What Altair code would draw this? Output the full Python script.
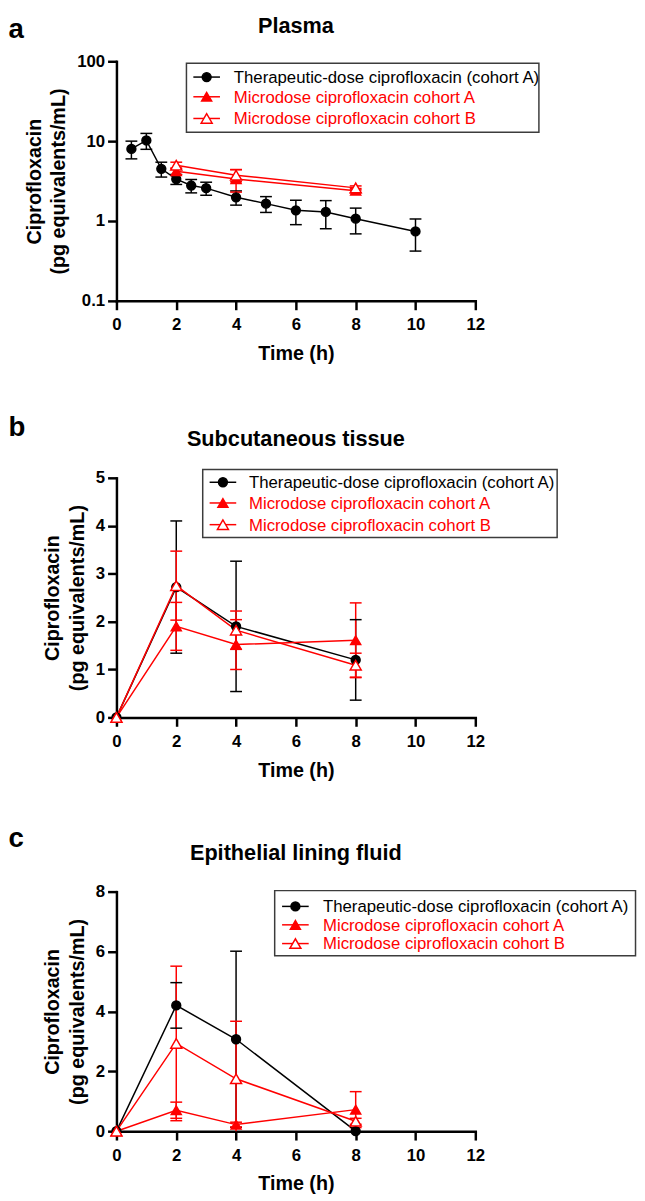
import altair as alt
import pandas as pd

FONT = "Liberation Sans"
RED = "#ff0000"

SERIES = ["Therapeutic-dose ciprofloxacin (cohort A)",
          "Microdose ciprofloxacin cohort A",
          "Microdose ciprofloxacin cohort B"]
LINE_COLORS = ["#000000", RED, RED]
FILL_COLORS = ["#000000", RED, "#ffffff"]
SHAPES = ["circle", "triangle-up", "triangle-up"]
SIZES = [81, 125, 125]

# ---- Panel a: Plasma (log scale) ----
plasma_time_ther = [0.5, 1, 1.5, 2, 2.5, 3, 4, 5, 6, 7, 8, 10]
plasma_mean_ther = [8.0, 10.2, 4.5, 3.35, 2.78, 2.58, 1.98, 1.65, 1.36, 1.3, 1.07, 0.74]
plasma_err_ther = [2.0, 2.3, 0.95, 0.48, 0.53, 0.48, 0.4, 0.37, 0.46, 0.5, 0.38, 0.32]
plasma_time_micro = [2, 4, 8]
plasma_mean_micro_a = [4.2, 3.35, 2.4]
plasma_err_micro_a = [0.4, 1.05, 0.15]
plasma_mean_micro_b = [5.0, 3.75, 2.6]
plasma_err_micro_b = [0.45, 0.65, 0.15]

# ---- Panel b: Subcutaneous tissue ----
tissue_time = [0, 2, 4, 8]
tissue_mean_ther = [0, 2.72, 1.9, 1.2]
tissue_err_ther = [0, 1.38, 1.36, 0.84]
tissue_mean_micro_a = [0, 1.9, 1.52, 1.61]
tissue_err_micro_a = [0, 0.5, 0.52, 0.78]
tissue_mean_micro_b = [0, 2.75, 1.82, 1.09]
tissue_err_micro_b = [0, 0.72, 0.4, 0.25]

# ---- Panel c: Epithelial lining fluid ----
elf_time = [0, 2, 4, 8]
elf_mean_ther = [0, 4.2, 3.07, 0]
elf_err_ther = [0, 0.76, 2.94, 0]
elf_mean_micro_a = [0, 0.7, 0.22, 0.72]
elf_err_micro_a = [0, 0.27, 0.08, 0.6]
elf_mean_micro_b = [0, 2.93, 1.75, 0.33]
elf_err_micro_b = [0, 2.58, 1.92, 0.1]

X_TICKS = [0, 2, 4, 6, 8, 10, 12]
Y_TITLE = ["Ciprofloxacin", "(pg equivalents/mL)"]

W, H = 364, 243


def frame(groups):
    rows = []
    for s, ts, ms, es in groups:
        for t, m, e in zip(ts, ms, es):
            rows.append({"series": s, "t": t, "mean": m, "err": e})
    return pd.DataFrame(rows)


def panel(df, letter, title, yscale, yvalues, floor, leg, letter_y, title_y):
    xs = alt.Scale(domain=[0, 12], nice=False)
    xax = alt.Axis(values=X_TICKS, title="Time (h)", format="d")
    yax = alt.Axis(values=yvalues, title=Y_TITLE, format="~g")

    def X():
        return alt.X("t:Q", scale=xs, axis=xax)

    def Y(f):
        return alt.Y(f"{f}:Q", scale=yscale, axis=yax)

    color = alt.Color("series:N", scale=alt.Scale(domain=SERIES, range=LINE_COLORS), legend=None)
    shape = alt.Shape("series:N", scale=alt.Scale(domain=SERIES, range=SHAPES), legend=None)
    fill = alt.Fill("series:N", scale=alt.Scale(domain=SERIES, range=FILL_COLORS), legend=None)
    stroke = alt.Stroke("series:N", scale=alt.Scale(domain=SERIES, range=LINE_COLORS), legend=None)
    size = alt.Size("series:N", scale=alt.Scale(domain=SERIES, range=SIZES), legend=None)

    base = alt.Chart(df)
    err = base.transform_filter("datum.err > 0").transform_calculate(
        lo=f"max(datum.mean - datum.err, {floor})", hi="datum.mean + datum.err")
    bars = err.mark_rule(strokeWidth=1.5).encode(x=X(), y=Y("lo"), y2="hi:Q", color=color)
    caps = err.transform_fold(["lo", "hi"], as_=["end", "v"]).transform_filter(
        f"datum.v > {floor}").mark_tick(orient="horizontal", size=12, thickness=1.5, opacity=1).encode(
        x=X(), y=Y("v"), color=color)
    lines = base.mark_line(strokeWidth=1.5).encode(x=X(), y=Y("mean"), color=color)
    pts = base.mark_point(filled=True, opacity=1, strokeWidth=1.5).encode(
        x=X(), y=Y("mean"), shape=shape, fill=fill, stroke=stroke, size=size)

    layers = [bars, caps, lines, pts]

    # legend box and entries
    lg = alt.Chart(pd.DataFrame({"series": SERIES}))
    x0, x1, y0, y1 = leg["box"]
    layers.append(lg.transform_filter(alt.datum.series == SERIES[0]).mark_rect(
        filled=False, stroke="#3c3c3c", strokeWidth=1.5).encode(
        x=alt.value(x0), x2=alt.value(x1), y=alt.value(y0), y2=alt.value(y1)))
    for i, s in enumerate(SERIES):
        row = lg.transform_filter(alt.datum.series == s)
        ry = leg["rows"][i]
        layers.append(row.mark_rule(strokeWidth=1.5).encode(
            x=alt.value(leg["sym"] - leg["half"]), x2=alt.value(leg["sym"] + leg["half"]),
            y=alt.value(ry), color=color))
        layers.append(row.mark_point(filled=True, opacity=1, strokeWidth=1.5).encode(
            x=alt.value(leg["sym"]), y=alt.value(ry), shape=shape, fill=fill, stroke=stroke, size=size))
        layers.append(row.mark_text(align="left", baseline="middle", font=FONT, fontSize=17).encode(
            x=alt.value(leg["text"]), y=alt.value(ry + 1), text="series:N", color=color))

    # panel letter and panel title
    layers.append(alt.Chart(pd.DataFrame({"label": [letter]})).mark_text(
        align="left", baseline="alphabetic", font=FONT, fontSize=28, fontWeight="bold", color="black").encode(
        x=alt.value(-109.5), y=alt.value(letter_y), text="label:N"))
    layers.append(alt.Chart(pd.DataFrame({"label": [title]})).mark_text(
        align="center", baseline="alphabetic", font=FONT, fontSize=22, fontWeight="bold", color="black").encode(
        x=alt.value(W / 2), y=alt.value(title_y), text="label:N"))

    return alt.layer(*layers).properties(width=W, height=H)


df_a = frame([
    (SERIES[0], plasma_time_ther, plasma_mean_ther, plasma_err_ther),
    (SERIES[1], plasma_time_micro, plasma_mean_micro_a, plasma_err_micro_a),
    (SERIES[2], plasma_time_micro, plasma_mean_micro_b, plasma_err_micro_b),
])
df_b = frame([
    (SERIES[0], tissue_time, tissue_mean_ther, tissue_err_ther),
    (SERIES[1], tissue_time, tissue_mean_micro_a, tissue_err_micro_a),
    (SERIES[2], tissue_time, tissue_mean_micro_b, tissue_err_micro_b),
])
df_c = frame([
    (SERIES[0], elf_time, elf_mean_ther, elf_err_ther),
    (SERIES[1], elf_time, elf_mean_micro_a, elf_err_micro_a),
    (SERIES[2], elf_time, elf_mean_micro_b, elf_err_micro_b),
])

pa = panel(df_a, "a", "Plasma",
           alt.Scale(type="log", domain=[0.1, 100], nice=False), [0.1, 1, 10, 100], 0.1,
           dict(box=(71, 428.5, 2, 72), sym=91.5, half=13.5, text=119, rows=[16, 36, 58]),
           -23.5, -29)
pb = panel(df_b, "b", "Subcutaneous tissue",
           alt.Scale(type="linear", domain=[0, 5], nice=False), [0, 1, 2, 3, 4, 5], 0,
           dict(box=(87.5, 447, -8.5, 60.5), sym=108, half=13.5, text=134.4, rows=[4.5, 25.5, 47.5]),
           -42.8, -31.8)
pc = panel(df_c, "c", "Epithelial lining fluid",
           alt.Scale(type="linear", domain=[0, 8], nice=False), [0, 2, 4, 6, 8], 0,
           dict(box=(160.5, 526.5, -1, 65), sym=181.5, half=13.5, text=209.5, rows=[15, 33.7, 52.7]),
           -45.7, -31.7)

chart = alt.vconcat(alt.vconcat(pa, pb, spacing=49.5), pc, spacing=43.2).properties(
    padding={"top": -2.5, "left": 0, "right": 0, "bottom": 0}
).configure_view(stroke="transparent").configure_axis(
    domainColor="black", domainWidth=2.5, domainCap="square",
    tickColor="black", tickWidth=2.5, tickSize=9,
    labelFont=FONT, labelFontSize=17, labelFontWeight="bold", labelColor="black",
    titleFont=FONT, titleFontSize=20, titleFontWeight="bold", titleColor="black",
    grid=False, labelFlush=False, labelOverlap=False,
).configure_axisX(labelPadding=7.5, titlePadding=11).configure_axisY(
    labelPadding=3, titlePadding=8, titleLineHeight=25)

chart.save("out.html", embed_options={"renderer": "svg", "actions": False})
